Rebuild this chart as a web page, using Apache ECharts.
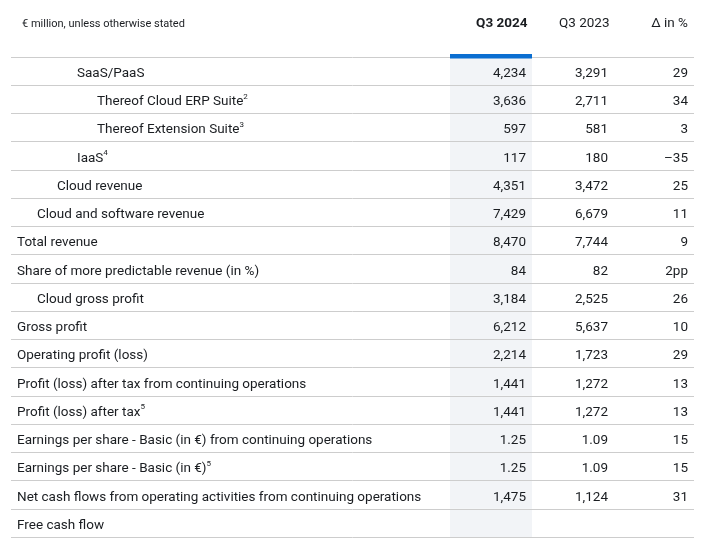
<!DOCTYPE html>
<html>
<head>
<meta charset="utf-8">
<script src="https://cdn.jsdelivr.net/npm/echarts@6/dist/echarts.min.js"></script>
<style>
  html, body { margin: 0; padding: 0; background: #fff; }
  #chart { width: 704px; height: 541px; }
</style>
</head>
<body>
<div id="chart"></div>
<script>
  const columns = ['Q3 2024', 'Q3 2023', 'Δ in %']

  const rowLabels = [
    'SaaS/PaaS',
    'Thereof Cloud ERP Suite',
    'Thereof Extension Suite',
    'IaaS',
    'Cloud revenue',
    'Cloud and software revenue',
    'Total revenue',
    'Share of more predictable revenue (in %)',
    'Cloud gross profit',
    'Gross profit',
    'Operating profit (loss)',
    'Profit (loss) after tax from continuing operations',
    'Profit (loss) after tax',
    'Earnings per share - Basic (in €) from continuing operations',
    'Earnings per share - Basic (in €)',
    'Net cash flows from operating activities from continuing operations',
    'Free cash flow'
  ]
  const rowFootnotes = ['', '2', '3', '4', '', '', '', '', '', '', '', '', '5', '', '5', '', '']
  const rowLevels = [3, 4, 4, 3, 2, 1, 0, 0, 1, 0, 0, 0, 0, 0, 0, 0, 0]

  const q3_2024 = [4234, 3636, 597, 117, 4351, 7429, 8470, 84, 3184, 6212, 2214, 1441, 1441, 1.25, 1.25, 1475, null]
  const q3_2023 = [3291, 2711, 581, 180, 3472, 6679, 7744, 82, 2525, 5637, 1723, 1272, 1272, 1.09, 1.09, 1124, null]
  const deltaPct = [29, 34, 3, -35, 25, 11, 9, '2pp', 26, 10, 29, 13, 13, 15, 15, 31, null]

  const FONT = 'Roboto, "Noto Sans", sans-serif'
  const TEXT = '#1a1d21'
  const colPad = [6, 6, 8]

  function fmt(v) {
    if (v === null || v === undefined) return ''
    if (typeof v === 'string') return v
    const s = Number.isInteger(v)
      ? Math.abs(v).toLocaleString('en-US')
      : Math.abs(v).toFixed(2)
    return (v < 0 ? '–' : '') + s
  }

  const columnValues = [q3_2024, q3_2023, deltaPct]

  const chart = echarts.init(document.getElementById('chart'))

  const labelRich = {
    t: { fontFamily: FONT, fontSize: 13.5, color: TEXT, lineHeight: 18 },
    s: { fontFamily: FONT, fontSize: 8, color: TEXT, verticalAlign: 'top', lineHeight: 18 }
  }
  ;[1, 2, 3, 4].forEach(l => {
    labelRich['i' + l] = { width: l * 20, lineHeight: 18 }
  })

  const valueSeries = columns.map((col, ci) => ({
    type: 'custom',
    xAxisIndex: 1,
    yAxisIndex: 1,
    z: 4,
    silent: true,
    data: rowLabels.map((r, ri) => [ci, ri]),
    renderItem(params, api) {
      const c = api.coord([api.value(0), api.value(1)])
      const size = api.size([1, 1])
      return {
        type: 'text',
        x: c[0] + size[0] / 2 - colPad[ci],
        y: c[1] + 2.5,
        style: {
          text: fmt(columnValues[ci][params.dataIndex]),
          align: 'right',
          verticalAlign: 'middle',
          fontFamily: FONT,
          fontSize: 13.5,
          fill: TEXT
        }
      }
    }
  }))

  chart.setOption({
    animation: false,
    title: {
      text: '€ million, unless otherwise stated',
      left: 17,
      top: 14,
      textStyle: { fontFamily: FONT, fontSize: 11, fontWeight: 'normal', color: TEXT }
    },
    grid: [
      { left: 11, right: 10, top: 57, bottom: 4 },
      { left: 450, right: 8, top: 57, bottom: 4 }
    ],
    xAxis: [
      { gridIndex: 0, type: 'value', min: 0, max: 1, show: false },
      {
        gridIndex: 1,
        type: 'category',
        data: columns,
        position: 'top',
        axisLine: { show: false },
        axisTick: { show: false },
        splitArea: { show: false },
        axisLabel: {
          interval: 0,
          margin: 26,
          formatter: (v, i) => (i === 0 ? `{b|${v}}` : i === 1 ? `{n|${v}}` : `{d|${v}}`),
          rich: {
            b: { width: 73, align: 'right', fontFamily: FONT, fontSize: 13.5, fontWeight: 'bold', color: TEXT },
            n: { width: 73, align: 'right', fontFamily: FONT, fontSize: 13.5, color: TEXT },
            d: { width: 66, align: 'right', fontFamily: FONT, fontSize: 13.5, color: TEXT }
          }
        }
      }
    ],
    yAxis: [
      {
        gridIndex: 0,
        type: 'category',
        data: rowLabels,
        inverse: true,
        z: 3,
        axisLine: { show: false },
        axisTick: { show: false },
        splitLine: { show: true, lineStyle: { color: '#cdcdcd', width: 1 } },
        axisLabel: {
          inside: true,
          margin: 6,
          padding: [5, 0, 0, 0],
          formatter: (v, i) => {
            const lvl = rowLevels[i]
            const fn = rowFootnotes[i]
            return (lvl ? `{i${lvl}|}` : '') + `{t|${v}}` + (fn ? `{s|${fn}}` : '')
          },
          rich: labelRich
        }
      },
      { gridIndex: 1, type: 'category', data: rowLabels, inverse: true, show: false }
    ],
    series: [
      {
        // shaded current-quarter column
        type: 'custom',
        xAxisIndex: 1,
        yAxisIndex: 1,
        z: 1,
        silent: true,
        data: rowLabels.map((r, ri) => [0, ri]),
        renderItem(params, api) {
          const c = api.coord([api.value(0), api.value(1)])
          const size = api.size([1, 1])
          return {
            type: 'rect',
            shape: { x: c[0] - size[0] / 2, y: c[1] - size[1] / 2, width: size[0], height: size[1] },
            style: { fill: '#f2f4f7' }
          }
        }
      },
      ...valueSeries,
      {
        type: 'custom',
        xAxisIndex: 1,
        yAxisIndex: 1,
        z: 6,
        silent: true,
        data: [[0, 0]],
        renderItem(params, api) {
          const c = api.coord([api.value(0), api.value(1)])
          const size = api.size([1, 1])
          return {
            type: 'rect',
            shape: { x: c[0] - size[0] / 2, y: c[1] - size[1] / 2 - 3, width: size[0], height: 4.5 },
            style: { fill: '#0a6ed1' }
          }
        }
      }
    ]
  })
</script>
</body>
</html>
